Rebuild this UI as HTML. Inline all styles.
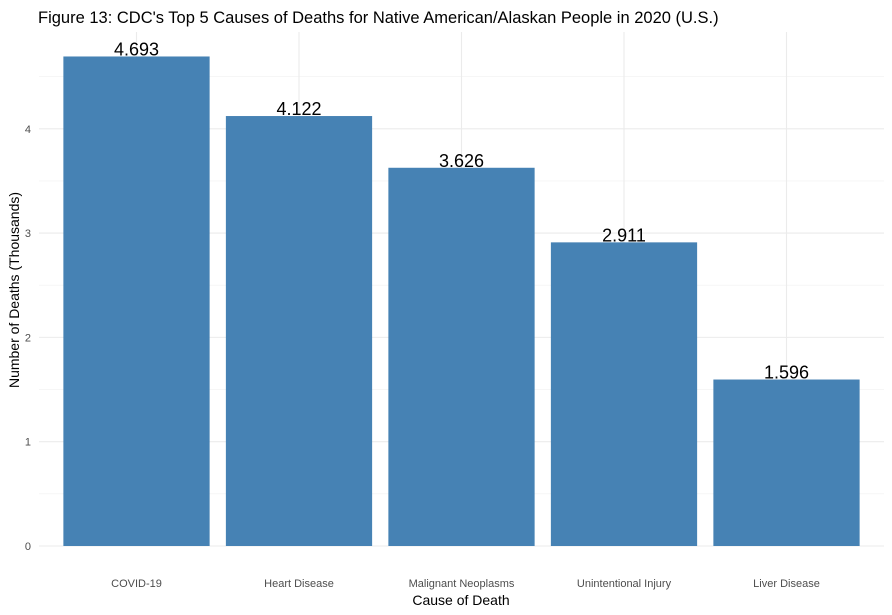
<!DOCTYPE html>
<html><head><meta charset="utf-8"><style>
body{margin:0;background:#fff;}
svg{font-family:"Liberation Sans",Arial,sans-serif;display:block;}
</style></head><body>
<svg id="chart" width="892" height="615">
<text x="38" y="23" font-size="16.5" fill="#000">Figure 13: CDC's Top 5 Causes of Deaths for Native American/Alaskan People in 2020 (U.S.)</text>
<g id="grid"></g><g id="bars"></g><g id="labels"></g><g id="ticks"></g>
<text x="461" y="605" font-size="14" text-anchor="middle" fill="#000">Cause of Death</text>
<text transform="translate(19,290) rotate(-90)" font-size="14" text-anchor="middle" fill="#000">Number of Deaths (Thousands)</text>
</svg>
<script>
const categories=["COVID-19","Heart Disease","Malignant Neoplasms","Unintentional Injury","Liver Disease"];
const values=[4.693,4.122,3.626,2.911,1.596];
const valueLabels=["4.693","4.122","3.626","2.911","1.596"];
const yTicks=[0,1,2,3,4];
const ns="http://www.w3.org/2000/svg";
const pLeft=39,pRight=884,pTop=32,pBottom=546;
const yMax=Math.max(...values)*1.05;
const y=v=>pBottom-(v/yMax)*(pBottom-pTop);
const band=(pRight-pLeft)/(categories.length+0.2);
const x=i=>pLeft+band*(0.6+i);
function mk(tag,attrs,parent){const e=document.createElementNS(ns,tag);for(const k in attrs)e.setAttribute(k,attrs[k]);document.getElementById(parent).appendChild(e);return e;}
for(let v=0.5;v<yMax;v+=1){const l=mk('line',{x1:pLeft,x2:pRight,y1:y(v),y2:y(v),stroke:'#f0f0f0','stroke-width':0.6},'grid');

}
yTicks.forEach(t=>{const l=mk('line',{x1:pLeft,x2:pRight,y1:y(t),y2:y(t),stroke:'#ebebeb','stroke-width':1.1},'grid');


const tx=mk('text',{x:pLeft-8,y:y(t)+4,'font-size':11,'text-anchor':'end',fill:'#4d4d4d'},'ticks');tx.textContent=t;

});
categories.forEach((c,i)=>{const l=mk('line',{x1:x(i),x2:x(i),y1:pTop,y2:pBottom,stroke:'#ebebeb','stroke-width':1.1},'grid');


const w=band*0.9;
const r=mk('rect',{x:x(i)-w/2,y:y(values[i]),width:w,height:pBottom-y(values[i]),fill:'#4682b4'},'bars');


const lb=mk('text',{x:x(i),y:y(values[i])-1,'font-size':18,'text-anchor':'middle',fill:'#000'},'labels');lb.textContent=valueLabels[i];


const tx=mk('text',{x:x(i),y:587,'font-size':11,'text-anchor':'middle',fill:'#4d4d4d'},'ticks');tx.textContent=c;

});
</script>
</body></html>
